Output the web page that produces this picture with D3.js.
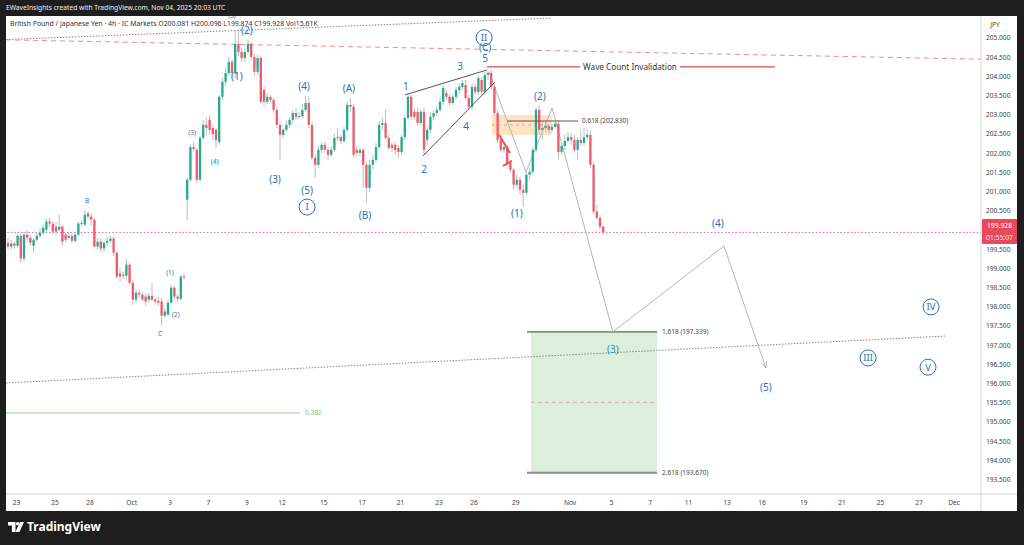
<!DOCTYPE html>
<html><head><meta charset="utf-8">
<script src="https://cdn.jsdelivr.net/npm/d3@7"></script>
<style>body{margin:0;background:#1e1e1e;overflow:hidden}svg{display:block;font-family:"Noto Sans",sans-serif}</style>
</head><body><svg id="c" width="1024" height="545"></svg>
<script>
// ---------- DATA ----------
// 4h candles [open, high, low, close], GBPJPY
const candles = [
[199.66,199.79,199.48,199.56],[199.56,199.74,199.48,199.64],[199.64,199.71,199.51,199.58],[199.58,199.90,199.53,199.84],
[199.84,199.92,199.14,199.25],[199.25,199.95,199.17,199.87],[199.87,200.00,199.71,199.79],[199.79,199.87,199.58,199.66],
[199.58,199.79,199.40,199.74],[199.74,199.92,199.69,199.84],[199.84,200.05,199.79,199.92],[199.92,200.13,199.87,200.05],
[200.00,200.29,199.95,200.21],[200.21,200.31,200.05,200.16],[200.16,200.23,199.90,199.95],[200.08,200.21,199.87,199.95],
[200.00,200.39,199.95,200.08],[200.08,200.13,199.58,199.69],[199.87,199.92,199.66,199.74],[199.79,199.92,199.74,199.84],
[199.84,199.90,199.66,199.71],[199.71,199.95,199.66,199.87],[199.87,200.21,199.82,200.16],[200.16,200.26,200.08,200.18],
[200.13,200.49,200.08,200.39],[200.42,200.47,200.29,200.34],[200.34,200.42,200.10,200.26],[200.26,200.31,199.53,199.56],
[199.56,199.79,199.48,199.69],[199.69,199.77,199.40,199.51],[199.51,199.71,199.43,199.66],[199.66,199.82,199.58,199.71],
[199.71,199.84,199.64,199.77],[199.77,199.82,199.32,199.40],[199.40,199.45,198.72,198.78],[198.86,199.01,198.64,198.78],
[198.83,198.91,198.72,198.80],[198.80,199.25,198.67,199.09],[199.09,199.14,198.57,198.62],[198.62,198.70,198.05,198.18],
[198.18,198.44,198.10,198.36],[198.36,198.44,198.23,198.31],[198.31,198.39,198.13,198.18],[198.26,198.34,198.02,198.13],
[198.18,198.36,198.10,198.28],[198.28,198.62,198.13,198.18],[198.18,198.23,198.05,198.13],[198.15,198.26,198.02,198.10],
[198.13,198.23,197.50,197.76],[197.76,197.97,197.71,197.87],[197.79,198.18,197.74,198.10],[198.10,198.57,198.05,198.49],
[198.49,198.54,198.18,198.26],[198.26,198.31,198.10,198.20],[198.20,198.83,198.15,198.78],[198.78,198.86,198.70,198.75],
[200.78,201.35,200.26,201.30],[201.30,202.21,201.25,202.15],[202.15,202.28,202.02,202.10],[202.08,202.13,201.22,201.30],
[201.30,202.44,201.25,202.39],[202.39,202.86,202.34,202.73],[202.73,202.91,202.47,202.65],[202.86,202.99,202.47,202.60],
[202.65,202.73,202.34,202.49],[202.60,202.65,202.13,202.34],[202.28,203.51,202.21,203.46],[203.46,203.95,203.38,203.85],
[203.85,204.21,203.74,204.08],[204.08,204.50,204.00,204.37],[204.37,204.42,204.00,204.08],[204.08,205.20,203.95,204.84],
[204.84,205.20,204.52,204.63],[204.63,204.73,204.37,204.47],[204.47,204.73,204.37,204.63],[204.63,204.94,204.55,204.84],
[204.84,204.89,204.42,204.50],[204.50,204.58,204.00,204.11],[204.11,204.55,204.05,204.47],[204.47,204.52,203.27,203.33],
[203.64,203.74,203.22,203.33],[203.33,203.56,203.27,203.46],[203.46,203.51,203.30,203.38],[203.38,203.43,203.04,203.12],
[203.12,203.20,202.65,202.73],[202.73,202.81,201.82,202.47],[202.47,202.65,202.39,202.60],[202.60,202.86,202.55,202.73],
[202.73,202.94,202.65,202.86],[202.86,203.12,202.76,203.04],[203.04,203.17,202.86,202.94],[202.94,203.07,202.89,202.96],
[202.96,203.27,202.89,203.12],[203.12,203.48,203.07,203.30],[203.30,203.48,202.65,202.73],[202.73,202.81,201.82,201.87],
[201.87,201.95,201.35,201.69],[201.69,202.18,201.61,202.08],[202.08,202.28,202.00,202.21],[202.21,202.28,202.00,202.08],
[202.08,202.15,201.82,201.95],[201.95,202.18,201.90,202.08],[202.08,202.49,202.02,202.39],[202.39,202.65,202.31,202.41],
[202.41,202.47,202.23,202.31],[202.31,202.68,202.26,202.60],[202.60,203.33,202.55,203.25],[203.25,203.43,203.07,203.20],
[203.20,203.27,201.87,201.95],[202.08,202.18,201.90,202.00],[202.00,202.13,201.92,202.08],[202.08,202.13,201.09,201.69],
[201.69,201.77,200.70,201.09],[201.09,201.82,201.00,201.69],[201.69,201.95,201.56,201.82],[201.82,202.26,201.74,202.15],
[202.15,202.83,202.08,202.73],[202.73,202.91,202.60,202.78],[202.78,203.12,202.34,202.39],[202.39,202.47,202.08,202.13],
[202.21,202.28,202.02,202.13],[202.21,202.28,201.95,202.08],[202.13,202.21,201.87,202.02],[202.02,202.47,201.95,202.41],
[202.41,202.99,202.34,202.91],[202.91,203.51,202.86,203.46],[203.46,203.51,202.86,202.94],[203.07,203.17,202.86,202.94],
[203.07,203.17,202.70,202.78],[202.78,203.12,202.73,203.07],[203.07,203.17,201.95,202.08],[202.34,202.70,202.21,202.60],
[202.60,203.04,202.52,202.94],[202.94,203.12,202.86,203.04],[203.04,203.22,202.96,203.12],[203.12,203.43,203.07,203.33],
[203.33,203.77,203.25,203.69],[203.56,203.64,203.38,203.46],[203.46,203.53,203.22,203.30],[203.30,203.53,203.25,203.46],
[203.46,203.72,203.38,203.64],[203.64,203.82,203.56,203.72],[203.72,203.90,203.64,203.82],[203.77,203.90,203.38,203.43],
[203.43,203.51,203.12,203.20],[203.20,203.80,203.12,203.72],[203.72,203.80,203.51,203.59],[203.59,204.03,203.51,203.95],
[203.90,203.98,203.51,203.59],[203.59,204.11,203.51,204.03],[204.03,204.16,203.90,204.08],[204.08,204.16,203.64,203.72],
[203.72,203.80,202.96,203.04],[203.04,203.12,202.26,202.34],[202.34,202.42,202.00,202.08],[202.08,202.26,202.00,202.15],
[202.15,202.21,201.66,201.74],[201.74,201.82,201.48,201.56],[201.56,201.61,201.04,201.17],[201.17,201.43,201.09,201.30],
[201.30,201.38,200.91,201.04],[201.04,201.17,200.59,200.96],[200.96,201.51,200.88,201.43],[201.43,201.61,201.30,201.51],
[201.51,202.15,201.43,202.08],[202.08,203.20,202.00,203.12],[203.12,203.25,202.47,202.60],[202.60,202.81,202.34,202.65],
[202.65,202.81,202.55,202.70],[202.70,202.76,202.52,202.60],[202.60,202.76,202.55,202.68],[202.68,202.86,202.65,202.76],
[202.76,202.86,201.82,202.02],[202.02,202.28,201.95,202.18],[202.18,202.47,202.08,202.31],[202.31,202.55,202.26,202.41],
[202.41,202.52,202.21,202.34],[202.34,202.47,202.00,202.08],[202.08,202.41,201.82,202.34],[202.34,202.60,202.18,202.26],
[202.26,202.65,202.18,202.41],[202.41,202.60,202.34,202.47],[202.47,202.60,201.61,201.69],[201.69,201.77,200.41,200.47],
[200.47,200.65,200.26,200.31],[200.31,200.39,200.02,200.08],[200.081,200.096,199.874,199.928]
];
const firstBar = -2.5;            // bar offset of first candle (4h bars from Sep 23)
const barsPerDay = 6;
const lastPrice = 199.928;
const countdown = "01:55:07";

const timeTickLabels = ["23","25","28","Oct","3","7","9","12","15","17","21","23","26","29","Nov","5","7","11","13","16","19","21","25","27","Dec"];
const timeTickDays   = [0,2,3.83,6,8,10,12,13.83,16,18,20,22,23.83,26,28.83,31,33,35,37,38.83,41,43,45,47,48.83];
const priceTicks = [193.5,194,194.5,195,195.5,196,196.5,197,197.5,198,198.5,199,199.5,200,200.5,201,201.5,202,202.5,203,203.5,204,204.5,205];

// fib levels
const fibUpper = 197.339, fibLower = 193.670;   // 1.618 / 2.618
const fibRetrace = 202.830;                     // 0.618
const fib382 = 195.23;
const invalidation = 204.24;
const zoneHigh = 202.987, zoneLow = 202.466, zoneMid = 202.727;

// projected path [day, price]
const projection = [[24.64,204.107],[26.56,201.503],[27.92,203.169],[31.09,197.339],[36.875,199.576],[39.06,196.398]];
// wedge lines
const wedgeTop = [[20.26,203.51],[24.53,204.16]];
const wedgeBot = [[21.20,201.92],[24.95,203.85]];
const redMarks = [[[25.16,202.47],[25.73,202.00]],[[25.36,201.66],[25.83,201.79]]];
const trendTop = [[-0.52,204.95],[27.81,205.51]];
const trendRed = [[-0.52,204.945],[50.26,204.44]];
const trendLow = [[-0.52,196.008],[48.39,197.23]];

// wave labels [text, day, price, kind]
const waveLabels = [
["B",3.70,200.75,"s"],["C",7.50,197.28,"s"],["(1)",8.02,198.87,"s"],["(2)",8.33,197.78,"s"],
["(3)",9.17,202.52,"s"],["(4)",10.36,201.76,"s"],["(5)",11.25,205.56,"s"],
["(2)",12.02,205.18,"m"],["(1)",11.51,203.98,"m"],["(4)",15.0,203.74,"m"],["(A)",17.34,203.69,"m"],
["(3)",13.49,201.32,"m"],["(5)",15.16,201.01,"m"],["(B)",18.18,200.38,"m"],
["1",20.31,203.74,"m"],["2",21.25,201.58,"m"],["3",23.13,204.26,"m"],["4",23.44,202.70,"m"],
["5",24.43,204.46,"m"],["(C)",24.43,204.74,"m"],
["(2)",27.29,203.48,"m"],["(1)",26.09,200.43,"m"],["(3)",31.09,196.89,"t"],["(4)",36.56,200.17,"m"],["(5)",39.06,195.88,"m"]
];
const circleLabels = [["I",15.16,200.59],["II",24.38,205.0],["III",44.38,196.66],["IV",47.66,197.99],["V",47.5,196.42]];

// ---------- DRAW ----------
const svg = d3.select("#c");
const L=6, R=981, T=16, B=494;
const xs = d3.scaleLinear().domain([0,49]).range([16,956.8]);
const ys = d3.scaleLinear().domain([193.5,205]).range([479.3,37.7]);
const blue = "#2c6fbb";

svg.append("rect").attr("width",1024).attr("height",545).attr("fill","#1e1e1e");
svg.append("rect").attr("x",6).attr("y",16).attr("width",1011).attr("height",495).attr("fill","#fff");

const defs = svg.append("defs");
defs.append("clipPath").attr("id","clip").append("rect").attr("x",L).attr("y",T).attr("width",R-L).attr("height",B-T);
defs.append("marker").attr("id","arr").attr("viewBox","0 0 10 10").attr("refX",9).attr("refY",5)
  .attr("markerWidth",7).attr("markerHeight",7).attr("orient","auto")
  .append("path").attr("d","M0,1 L9,5 L0,9").attr("fill","none").attr("stroke","#aaa").attr("stroke-width",1.2);

const g = svg.append("g").attr("clip-path","url(#clip)");
const line = d3.line().x(d=>xs(d[0])).y(d=>ys(d[1]));

// green fib box
g.append("rect").attr("x",xs(26.82)).attr("width",xs(33.39)-xs(26.82))
  .attr("y",ys(fibUpper)).attr("height",ys(fibLower)-ys(fibUpper)).attr("fill","#dcefdc");
g.append("path").attr("d",line([[26.82,(fibUpper+fibLower)/2],[33.39,(fibUpper+fibLower)/2]]))
  .attr("stroke","#d9a8c0").attr("stroke-dasharray","4,3").attr("fill","none");
[fibUpper,fibLower].forEach(p=>{
  g.append("path").attr("d",line([[26.61,p],[33.39,p]])).attr("stroke","#8c8c8c").attr("stroke-width",1.8).attr("fill","none");
});
g.append("text").attr("x",xs(33.39)+5).attr("y",ys(fibUpper)).attr("dy","0.35em").attr("font-size",6.5).attr("fill","#444").text("1.618 ("+fibUpper.toFixed(3)+")");
g.append("text").attr("x",xs(33.39)+5).attr("y",ys(fibLower)).attr("dy","0.35em").attr("font-size",6.5).attr("fill","#444").text("2.618 ("+fibLower.toFixed(3)+")");

// 0.382 line
g.append("path").attr("d",line([[-0.52,fib382],[14.79,fib382]])).attr("stroke","#a8d8a8").attr("stroke-width",1.3).attr("fill","none");
g.append("text").attr("x",xs(14.79)+5).attr("y",ys(fib382)).attr("dy","0.35em").attr("font-size",6.5).attr("fill","#7cbf7c").text("0.382");

// orange zone
g.append("rect").attr("x",xs(24.79)).attr("width",xs(27.92)-xs(24.79))
  .attr("y",ys(zoneHigh)).attr("height",ys(zoneLow)-ys(zoneHigh)).attr("fill","rgba(255,170,70,0.32)");
g.append("path").attr("d",line([[24.79,zoneMid],[27.92,zoneMid]])).attr("stroke","#e8a0a0").attr("stroke-dasharray","3,3").attr("fill","none");

// trend lines
g.append("path").attr("d",line(trendTop)).attr("stroke","#888").attr("stroke-dasharray","1.5,1.5").attr("fill","none");
g.append("path").attr("d",line(trendLow)).attr("stroke","#888").attr("stroke-dasharray","1.5,1.5").attr("fill","none");
g.append("path").attr("d",line(trendRed)).attr("stroke","#f08a8a").attr("stroke-dasharray","5,4").attr("fill","none");

// last price line
g.append("path").attr("d",line([[-1,lastPrice],[51,lastPrice]])).attr("stroke","#cc66cc").attr("stroke-dasharray","1.5,2").attr("fill","none");

// projection path
g.append("path").attr("d",line(projection)).attr("stroke","#b5b5b5").attr("stroke-width",1).attr("fill","none").attr("marker-end","url(#arr)");

// candles
const cg = g.append("g");
candles.forEach((d,i)=>{
  const x = xs((firstBar+i)/barsPerDay);
  const [o,h,l,c] = d;
  const up = c>=o;
  cg.append("line").attr("x1",x).attr("x2",x).attr("y1",ys(h)).attr("y2",ys(l)).attr("stroke","#bcbcbc").attr("stroke-width",1);
  const y0 = ys(Math.max(o,c)), y1 = ys(Math.min(o,c));
  cg.append("rect").attr("x",x-1.15).attr("width",2.3).attr("y",y0).attr("height",Math.max(1,y1-y0))
    .attr("fill",up?"#22ab94":"#f05a68");
});

// wedge
[wedgeTop,wedgeBot].forEach(w=>g.append("path").attr("d",line(w)).attr("stroke","#555").attr("stroke-width",1).attr("fill","none"));
redMarks.forEach(w=>g.append("path").attr("d",line(w)).attr("stroke","#f05050").attr("stroke-width",2).attr("fill","none"));

// 0.618
g.append("path").attr("d",line([[25.57,fibRetrace],[29.27,fibRetrace]])).attr("stroke","#555").attr("stroke-width",1).attr("fill","none");
g.append("text").attr("x",xs(29.27)+4).attr("y",ys(fibRetrace)).attr("dy","0.35em").attr("font-size",6.5).attr("fill","#444").text("0.618 ("+fibRetrace.toFixed(3)+")");

// invalidation
g.append("path").attr("d",line([[24.53,invalidation],[39.53,invalidation]])).attr("stroke","#e04848").attr("stroke-width",1.4).attr("fill","none");
const invBg = g.append("rect").attr("fill","#fff");
const inv = g.append("text").attr("x",xs(31.98)).attr("y",ys(invalidation)).attr("dy","0.35em").attr("text-anchor","middle")
  .attr("font-size",8.2).attr("fill","#333").text("Wave Count Invalidation");
const bb = inv.node().getBBox();
invBg.attr("x",bb.x-3).attr("y",bb.y).attr("width",bb.width+6).attr("height",bb.height);

// wave labels
waveLabels.forEach(([t,d,p,k])=>{
  g.append("text").attr("x",xs(d)).attr("y",ys(p)).attr("dy","0.35em").attr("text-anchor","middle")
    .attr("font-size",k==="s"?6.5:10).attr("fill",k==="t"?"#3a8fb5":blue).text(t);
});
circleLabels.forEach(([t,d,p])=>{
  g.append("circle").attr("cx",xs(d)).attr("cy",ys(p)).attr("r",8).attr("fill","none").attr("stroke",blue).attr("stroke-width",1);
  g.append("text").attr("x",xs(d)).attr("y",ys(p)).attr("dy","0.36em").attr("text-anchor","middle")
    .attr("font-size",9.5).attr("fill",blue).text(t);
});

// axes
svg.append("line").attr("x1",R).attr("x2",R).attr("y1",T).attr("y2",511).attr("stroke","#d6d6d6");
svg.append("line").attr("x1",L).attr("x2",1017).attr("y1",B).attr("y2",B).attr("stroke","#d6d6d6");
const boxTop = 219, boxBot = 244;
const visTicks = priceTicks.filter(p=>{const y=ys(p);return y<boxTop-3||y>boxBot+1;});
const ya = svg.append("g").attr("transform",`translate(${R},0)`)
  .call(d3.axisRight(ys).tickValues(visTicks).tickSize(0).tickPadding(5).tickFormat(d3.format(".3f")));
ya.select(".domain").remove();
ya.selectAll("text").attr("font-size",6.6).attr("fill","#444").attr("font-family","Noto Sans, sans-serif");
const xa = svg.append("g").attr("transform",`translate(0,${B})`)
  .call(d3.axisBottom(xs).tickValues(timeTickDays).tickSize(0).tickPadding(6).tickFormat((d,i)=>timeTickLabels[i]));
xa.select(".domain").remove();
xa.selectAll("text").attr("font-size",6.6).attr("fill","#444").attr("font-family","Noto Sans, sans-serif");

// JPY
svg.append("rect").attr("x",984).attr("y",19).attr("width",22).attr("height",12).attr("fill","none").attr("stroke","#e2e2e2").attr("stroke-dasharray","1,1");
svg.append("text").attr("x",995).attr("y",25).attr("dy","0.35em").attr("text-anchor","middle").attr("font-size",6.5).attr("fill","#444").text("JPY");

// price label
svg.append("rect").attr("x",R+1).attr("y",boxTop).attr("width",35).attr("height",boxBot-boxTop).attr("fill","#e84a5c").attr("rx",1);
svg.append("text").attr("x",R+18.5).attr("y",225.5).attr("dy","0.35em").attr("text-anchor","middle").attr("font-size",6.8).attr("fill","#fff").text(lastPrice.toFixed(3));
svg.append("text").attr("x",R+18.5).attr("y",238).attr("dy","0.35em").attr("text-anchor","middle").attr("font-size",6.8).attr("fill","#fde").text(countdown);

// header
svg.append("text").attr("x",6).attr("y",8).attr("dy","0.35em").attr("font-size",6.7).attr("fill","#f0f0f0")
  .text("EWaveInsights created with TradingView.com, Nov 04, 2025 20:03 UTC");
svg.append("text").attr("x",10).attr("y",24).attr("dy","0.35em").attr("font-size",6.9).attr("fill","#333")
  .text("British Pound / Japanese Yen · 4h · IC Markets  O200.081  H200.096  L199.874  C199.928  Vol15.61K");

// logo
const lg = svg.append("g").attr("fill","#fff");
lg.append("path").attr("d","M8,522 h7.5 v10 h-3.6 v-6.6 h-3.9 z");
lg.append("circle").attr("cx",17.6).attr("cy",523.8).attr("r",1.7);
lg.append("path").attr("d","M20,522 h4 l-4.6,10 h-4 z");
lg.append("text").attr("x",27).attr("y",527).attr("dy","0.36em").attr("font-size",12).attr("font-weight","bold").attr("fill","#fff").text("TradingView");
</script></body></html>
